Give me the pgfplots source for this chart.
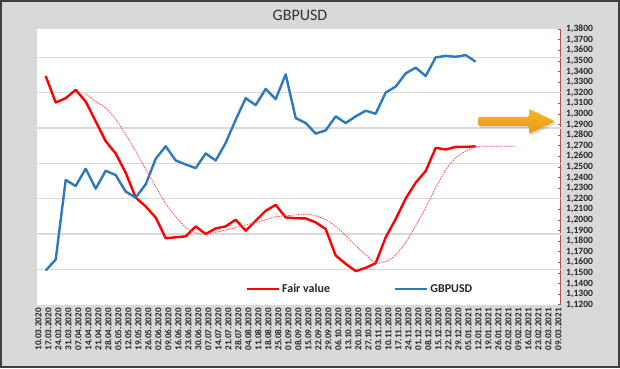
\documentclass[border=0pt]{standalone}
\usepackage{pgfplots}
\pgfplotsset{compat=1.18}
\usepackage{fontspec}
\setmainfont{Carlito}
\usetikzlibrary{shadows}
\definecolor{bggrey}{HTML}{D9D9D9}
\definecolor{gridgrey}{HTML}{D9D9D9}
\definecolor{fvred}{HTML}{FF0000}
\definecolor{dotred}{HTML}{FF4D4D}
\definecolor{gbpblue}{HTML}{2E78BD}
\definecolor{axisred}{HTML}{B05050}
\definecolor{arrowtop}{HTML}{F7B52B}
\definecolor{arrowbot}{HTML}{E89A0C}
\definecolor{titlegrey}{HTML}{333333}
\begin{document}
\begin{tikzpicture}[x=1pt,y=1pt]
\fill[bggrey] (0,0) rectangle (620,368);
\draw[line width=2pt, draw=black!75] (1,1) rectangle (619,367);
\useasboundingbox (0,0) rectangle (620,368);
\node[font=\fontsize{16}{16}\selectfont, text=titlegrey] at (300,352.7) {GBPUSD};
\begin{axis}[
  at={(37.3,59.7)}, anchor=south west,
  scale only axis, width=523.4pt, height=275.6pt,
  xmin=-0.84, xmax=51.5, ymin=1.12, ymax=1.38,
  axis background/.style={fill=white},
  axis x line*=bottom, axis y line*=right,
  x axis line style={draw=none},
  y axis line style={draw=axisred, line width=0.6pt},
  xtick={-0.74,0.26,1.26,2.26,3.26,4.26,5.26,6.26,7.26,8.26,9.26,10.26,11.26,12.26,13.26,14.26,15.26,16.26,17.26,18.26,19.26,20.26,21.26,22.26,23.26,24.26,25.26,26.26,27.26,28.26,29.26,30.26,31.26,32.26,33.26,34.26,35.26,36.26,37.26,38.26,39.26,40.26,41.26,42.26,43.26,44.26,45.26,46.26,47.26,48.26,49.26,50.26,51.26},
  xticklabels={10.03.2020,17.03.2020,24.03.2020,31.03.2020,07.04.2020,14.04.2020,21.04.2020,28.04.2020,05.05.2020,12.05.2020,19.05.2020,26.05.2020,02.06.2020,09.06.2020,16.06.2020,23.06.2020,30.06.2020,07.07.2020,14.07.2020,21.07.2020,28.07.2020,04.08.2020,11.08.2020,18.08.2020,25.08.2020,01.09.2020,08.09.2020,15.09.2020,22.09.2020,29.09.2020,06.10.2020,13.10.2020,20.10.2020,27.10.2020,03.11.2020,10.11.2020,17.11.2020,24.11.2020,01.12.2020,08.12.2020,15.12.2020,22.12.2020,29.12.2020,05.01.2021,12.01.2021,19.01.2021,26.01.2021,02.02.2021,09.02.2021,16.02.2021,23.02.2021,02.03.2021,09.03.2021},
  xtick style={draw=none},
  xticklabel style={rotate=90, anchor=east, font=\bfseries\fontsize{9.2}{9.5}\selectfont, text=black!85},
  ytick distance=0.01,
  ytick align=inside,
  y tick style={draw=axisred, line width=0.5pt},
  major tick length=3pt,
  yticklabel style={font=\bfseries\fontsize{9.6}{9.8}\selectfont, text=black!85, xshift=2pt,
    /pgf/number format/.cd, fixed, fixed zerofill, precision=4, use comma, assume math mode=true},
  extra y ticks={1.153333,1.186667,1.22,1.253333,1.286667,1.32,1.353333},
  extra y tick labels={},
  extra y tick style={grid=major, major grid style={draw=gridgrey, line width=1.5pt}, major tick length=0pt},
  legend style={at={(0.6166,0.0566)}, anchor=center, draw=none, fill=none,
    font=\bfseries\fontsize{12}{12}\selectfont, text=black!85,
    /tikz/every even column/.append style={column sep=62pt}},
  legend columns=2,
  legend image code/.code={\draw[#1] (0pt,0pt) -- (32pt,0pt);},
  clip=false,
]
\addplot[fvred, line width=2.4pt, line join=round] coordinates {
(0,1.3358) (1,1.3108) (2,1.3148) (3,1.3227) (4,1.3117) (5,1.2930) (6,1.2742) (7,1.2627) (8,1.2445) (9,1.2211)
(10,1.2127) (11,1.2023) (12,1.1827) (13,1.1836) (14,1.1845) (15,1.1939) (16,1.1867) (17,1.1920) (18,1.1939) (19,1.2002)
(20,1.1898) (21,1.1992) (22,1.2086) (23,1.2142) (24,1.2023) (25,1.2016) (26,1.2014) (27,1.1977) (28,1.1914) (29,1.1664)
(30,1.1586) (31,1.1517) (32,1.1548) (33,1.1592) (34,1.1836) (35,1.2008) (36,1.2202) (37,1.2352) (38,1.2461) (39,1.2680)
(40,1.2664) (41,1.2689) (42,1.2689) (43,1.2695)};
\addlegendentry{Fair value}
\addplot[gbpblue, line width=2.4pt, line join=round] coordinates {
(0,1.1523) (1,1.1626) (2,1.2377) (3,1.2320) (4,1.2483) (5,1.2295) (6,1.2464) (7,1.2423) (8,1.2267) (9,1.2211)
(10,1.2336) (11,1.2577) (12,1.2695) (13,1.2561) (14,1.2523) (15,1.2489) (16,1.2627) (17,1.2561) (18,1.2727) (19,1.2945)
(20,1.3148) (21,1.3083) (22,1.3236) (23,1.3139) (24,1.3373) (25,1.2961) (26,1.2914) (27,1.2814) (28,1.2845) (29,1.2977)
(30,1.2914) (31,1.2977) (32,1.3030) (33,1.3002) (34,1.3202) (35,1.3258) (36,1.3383) (37,1.3436) (38,1.3358) (39,1.3533)
(40,1.3548) (41,1.3539) (42,1.3555) (43,1.3492)};
\addlegendentry{GBPUSD}
\addplot[dotred, line width=0.8pt, dash pattern=on 1.5pt off 1pt, smooth, forget plot] coordinates {
(4,1.3189) (5,1.3117) (6,1.3055) (7,1.2952) (8,1.2805) (9,1.2648) (10,1.2477) (11,1.2314) (12,1.2155) (13,1.2030)
(14,1.1930) (15,1.1877) (16,1.1867) (17,1.1883) (18,1.1905) (19,1.1930) (20,1.1952) (21,1.1977) (22,1.2002) (23,1.2030)
(24,1.2039) (25,1.2048) (26,1.2055) (27,1.2039) (28,1.2002) (29,1.1939) (30,1.1852) (31,1.1758) (32,1.1670) (33,1.1595)
(34,1.1608) (35,1.1670) (36,1.1789) (37,1.1945) (38,1.2117) (39,1.2305) (40,1.2470) (41,1.2586) (42,1.2648) (43,1.2689)
(44,1.2695) (45,1.2695) (46,1.2695) (47,1.2695)};
\end{axis}
\shade[top color=arrowtop, bottom color=arrowbot, rounded corners=1.5pt, drop shadow={shadow xshift=1.2pt, shadow yshift=-2pt, opacity=0.3}]
 (478,242.2) -- (529,242.2) -- (529,234.2) -- (555,246.7) -- (529,259.2) -- (529,251.2) -- (478,251.2) -- cycle;
\end{tikzpicture}
\end{document}
